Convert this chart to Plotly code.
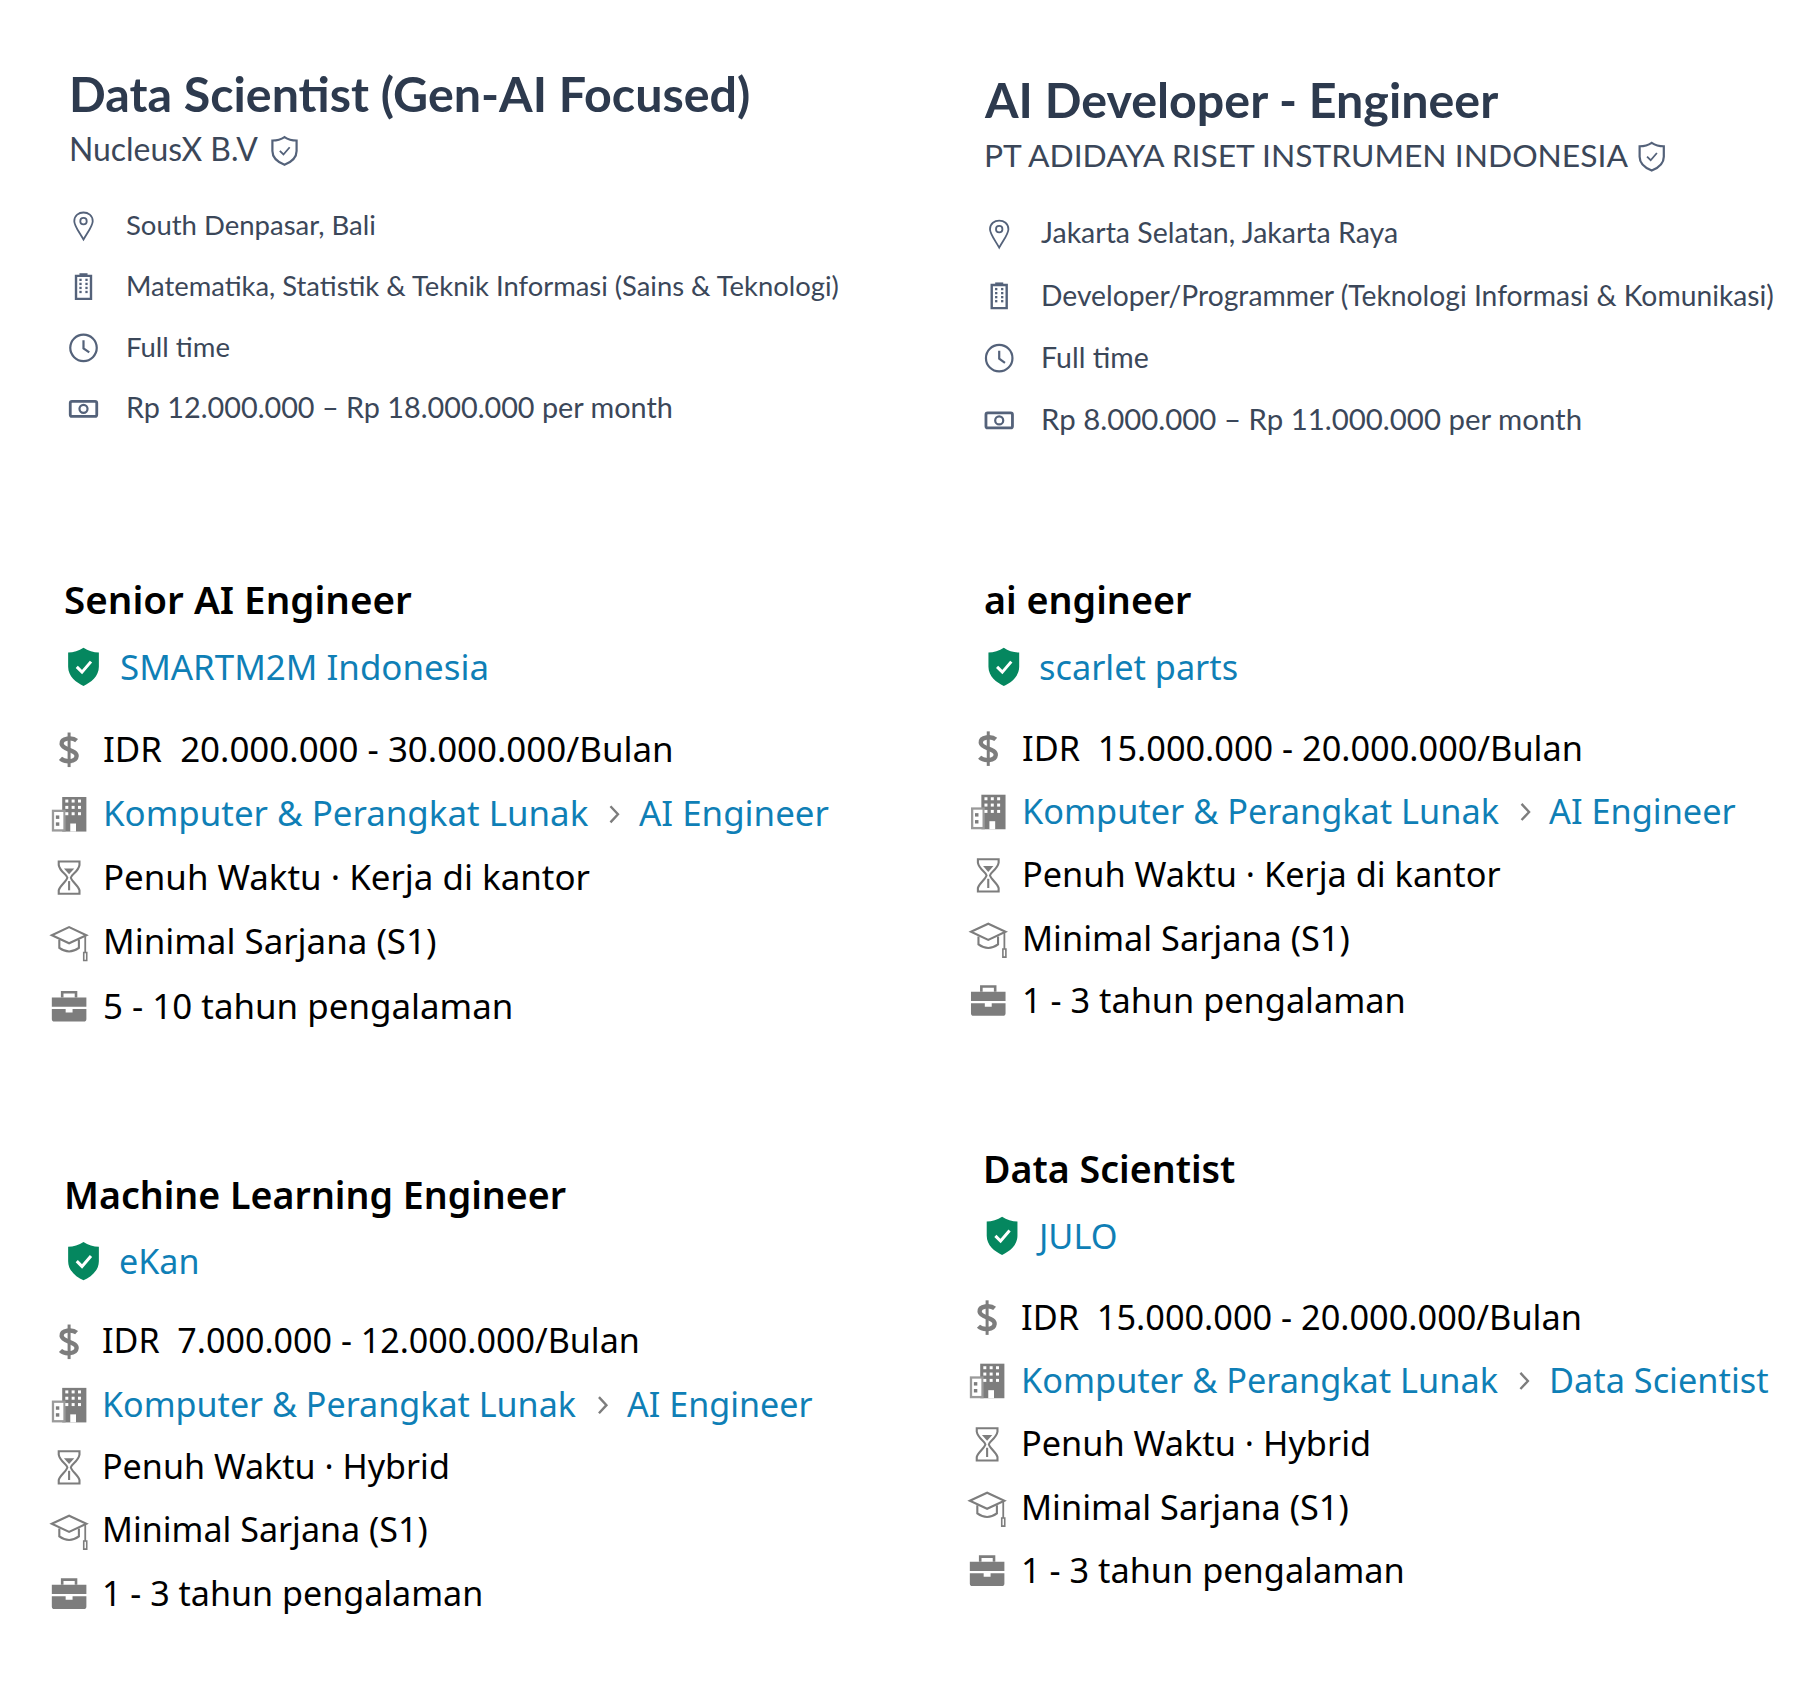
import plotly.graph_objects as go

# ---------- content ----------
top_titles = ["Data Scientist (Gen-AI Focused)", "AI Developer - Engineer"]
top_companies = ["NucleusX B.V", "PT ADIDAYA RISET INSTRUMEN INDONESIA"]
top_locations = ["South Denpasar, Bali", "Jakarta Selatan, Jakarta Raya"]
top_fields = ["Matematika, Statistik & Teknik Informasi (Sains & Teknologi)",
              "Developer/Programmer (Teknologi Informasi & Komunikasi)"]
top_types = ["Full time", "Full time"]
top_salaries = ["Rp 12.000.000 – Rp 18.000.000 per month", "Rp 8.000.000 – Rp 11.000.000 per month"]

low_titles = ["Senior AI Engineer", "ai engineer", "Machine Learning Engineer", "Data Scientist"]
low_companies = ["SMARTM2M Indonesia", "scarlet parts", "eKan", "JULO"]
low_salaries = ["IDR\u00a0 20.000.000 - 30.000.000/Bulan", "IDR\u00a0 15.000.000 - 20.000.000/Bulan",
                "IDR\u00a0 7.000.000 - 12.000.000/Bulan", "IDR\u00a0 15.000.000 - 20.000.000/Bulan"]
low_sectors = ["Komputer & Perangkat Lunak"] * 4
low_roles = ["AI Engineer", "AI Engineer", "AI Engineer", "Data Scientist"]
low_modes = ["Penuh Waktu · Kerja di kantor", "Penuh Waktu · Kerja di kantor",
             "Penuh Waktu · Hybrid", "Penuh Waktu · Hybrid"]
low_edu = ["Minimal Sarjana (S1)"] * 4
low_exp = ["5 - 10 tahun pengalaman", "1 - 3 tahun pengalaman", "1 - 3 tahun pengalaman", "1 - 3 tahun pengalaman"]

# ---------- layout (picture units) ----------
top_layout = [
    dict(x=61, title_y=82, sub_y=131, shield_x=247, icon_x=72.5, text_x=110, rows=[196, 249, 302, 355],
         sizes=[27.5, 27.4, 27.5, 28.8], sub_size=31.9),
    dict(x=855, title_y=87, sub_y=136, shield_x=1434, icon_x=867.5, text_x=905, rows=[203, 257, 311, 365],
         sizes=[28.5, 28.25, 28.5, 29.4], sub_size=31.8),
]
low_layout = [
    dict(x=56, title_y=521, co_x=105, co_y=580, sh_x=72.5, icon_x=60, text_x=90, arrow=533, role_x=556,
         rows=[651, 707, 762, 818, 874], title_size=38.6, size=34.9),
    dict(x=855, title_y=522, co_x=903, co_y=580, sh_x=871.5, icon_x=858, text_x=888, arrow=1324, role_x=1346,
         rows=[650, 705, 760, 815, 869], title_size=37.7, size=34.3),
    dict(x=56, title_y=1038, co_x=104, co_y=1096, sh_x=72.5, icon_x=60, text_x=89, arrow=523, role_x=545,
         rows=[1165, 1220, 1274, 1329, 1384], title_size=37.6, size=34.1),
    dict(x=854, title_y=1016, co_x=900, co_y=1074, sh_x=870, icon_x=857, text_x=887, arrow=1323, role_x=1346,
         rows=[1144, 1199, 1254, 1309, 1364], title_size=37.6, size=34.3),
]

INK = "#2d3a4e"
SUB = "#3b4759"
ICON = "#54627a"
BLUE = "#0f7fb6"
GREEN = "#05875f"
GRAY = "#7d7d7d"
TOPFONT = "Lato"
LOWFONT = "Noto Sans"

ann = []
shapes = []


def text(x, y, s, size, color, font, weight=400):
    ann.append(dict(x=x, y=y, xref="x", yref="y", text=s, showarrow=False, xanchor="left", yanchor="middle",
                    xshift=-3, yshift=1.5, font=dict(family=font, size=size, color=color, weight=weight)))


def path(cx, cy, s, cmds, fill=None, line=None, width=1.5, sx=None):
    sx = s if sx is None else sx
    out = []
    for c in cmds:
        op, nums = c[0], c[1:]
        pts = []
        for i in range(0, len(nums), 2):
            pts.append(f"{cx + nums[i] * sx:.2f},{cy + nums[i + 1] * s:.2f}")
        out.append(op + " ".join(pts))
    shapes.append(dict(type="path", xref="x", yref="y", path=" ".join(out),
                       fillcolor=fill if fill else "rgba(0,0,0,0)",
                       line=dict(color=line if line else "rgba(0,0,0,0)", width=width if line else 0)))


def circ(x, y, r):
    k = 0.5523 * r
    return [("M", x + r, y), ("C", x + r, y + k, x + k, y + r, x, y + r), ("C", x - k, y + r, x - r, y + k, x - r, y),
            ("C", x - r, y - k, x - k, y - r, x, y - r), ("C", x + k, y - r, x + r, y - k, x + r, y), ("Z",)]


def rect(x0, y0, x1, y1):
    return [("M", x0, y0), ("L", x1, y0), ("L", x1, y1), ("L", x0, y1), ("Z",)]


SHIELD = [("M", 0, -12), ("C", 3, -10, 7, -9, 10.5, -9), ("L", 10.5, 0), ("C", 10.5, 6, 5, 10, 0, 12),
          ("C", -5, 10, -10.5, 6, -10.5, 0), ("L", -10.5, -9), ("C", -7, -9, -3, -10, 0, -12), ("Z",)]
CHECK = [("M", -4.5, 0), ("L", -1, 3.5), ("L", 5, -3.5)]


def shield_outline(x, y):
    path(x, y, 1, SHIELD, None, ICON, 2.2)
    path(x, y, 0.9, CHECK, None, ICON, 1.8)


def shield_filled(x, y):
    path(x, y, 1.38, SHIELD, GREEN, sx=1.27)
    path(x, y, 1.3, CHECK, None, "#ffffff", 3)


def ic_pin(x, y):
    path(x, y, 1, [("M", 0, 12), ("C", -4, 5, -8, 0, -8, -4), ("C", -8, -9, -4, -11.5, 0, -11.5),
                   ("C", 4, -11.5, 8, -9, 8, -4), ("C", 8, 0, 4, 5, 0, 12), ("Z",)], None, ICON, 1.8)
    path(x, y - 4, 1, circ(0, 0, 2.8), None, ICON, 1.8)


def ic_building(x, y):
    path(x, y, 1, rect(-6.5, -9.5, 6.5, 10.5), None, ICON, 2.4)
    path(x, y, 1, [("M", -3.5, -11), ("L", 3.5, -11)], None, ICON, 1.8)
    for dx in (-2.6, 2.6):
        for dy in (-6, -2.5, 1, 4.5):
            path(x + dx, y + dy, 1, rect(-1, -1, 1, 1), ICON)


def ic_clock(x, y):
    path(x, y, 1, circ(0, 0, 11.5), None, ICON, 2.2)
    path(x, y, 1, [("M", 0, -6.5), ("L", 0, 0.5), ("L", 5, 4)], None, ICON, 2.2)


def ic_money(x, y):
    path(x, y, 1, [("M", -10, -6.5), ("L", 10, -6.5), ("C", 11, -6.5, 11.5, -6, 11.5, -5), ("L", 11.5, 5),
                   ("C", 11.5, 6, 11, 6.5, 10, 6.5), ("L", -10, 6.5), ("C", -11, 6.5, -11.5, 6, -11.5, 5),
                   ("L", -11.5, -5), ("C", -11.5, -6, -11, -6.5, -10, -6.5), ("Z",)], None, ICON, 2.8)
    path(x, y, 1, circ(0, 0, 3.5), None, ICON, 2.2)


def ic_dollar(x, y):
    path(x, y, 1, [("M", 6.5, -8), ("C", 3, -11, -7, -10.5, -6.5, -5), ("C", -6, 0, 7, 0, 6.5, 5.5),
                   ("C", 6, 11, -4, 11, -7.5, 7.5)], None, GRAY, 4.4)
    path(x, y, 1, [("M", 0, -15), ("L", 0, 15)], None, GRAY, 3)


def ic_office(x, y):
    path(x, y, 1, rect(-6, -15, 15, 15), GRAY)
    path(x, y, 1, rect(-15, -4, -3, 15), "#9a9a9a")
    path(x, y, 1, rect(-13, -2, -5, 13), "#ffffff")
    path(x, y, 1, rect(-11.5, 1, -8.5, 4), GRAY)
    path(x, y, 1, rect(-11.5, 7, -8.5, 10), GRAY)
    path(x, y, 1, rect(1, 8, 6, 15), "#ffffff")
    for dx in (-2, 3.5, 9):
        for dy in (-11.5, -6, -0.5):
            path(x + dx, y + dy, 1, rect(-1.3, -1.3, 1.3, 1.3), "#ffffff")


def ic_hour(x, y):
    path(x, y, 1, [("M", -9, -14), ("L", 9, -14), ("L", 9, -11), ("C", 8, -5, 2, -3, 1.5, 0), ("C", 2, 3, 8, 7, 9, 11),
                   ("L", 9, 14), ("L", -9, 14), ("L", -9, 11), ("C", -8, 7, -2, 3, -1.5, 0),
                   ("C", -2, -3, -8, -5, -9, -11), ("L", -9, -14), ("Z",)], None, GRAY, 2.1)
    path(x, y, 1, [("M", -4.5, -8), ("L", 4.5, -8), ("L", 0, -3), ("Z",)], GRAY)
    path(x, y, 1, [("M", 0, 3), ("L", 0, 11)], None, GRAY, 2.1)


def ic_cap(x, y):
    path(x, y, 1, [("M", -15, -6), ("L", 0, -13), ("L", 15, -6), ("L", 0, 1), ("Z",)], None, GRAY, 2.1)
    path(x, y, 1, [("M", -8.5, -2), ("L", -8.5, 5), ("C", -3, 9, 3, 9, 8.5, 5), ("L", 8.5, -2)], None, GRAY, 2.1)
    path(x, y, 1, [("M", 14, -5), ("L", 14, 9)], None, GRAY, 1.8)
    path(x, y, 1, rect(12.7, 9, 15.3, 16), None, GRAY, 1.6)


def ic_case(x, y):
    path(x, y, 1, [("M", -15, -8), ("L", 15, -8), ("L", 15, 0), ("L", -15, 0), ("Z",)], GRAY)
    path(x, y, 1, [("M", -15, 2), ("L", -3, 2), ("L", -3, 5), ("L", 3, 5), ("L", 3, 2), ("L", 15, 2), ("L", 15, 11),
                   ("C", 15, 12.5, 14, 13, 13, 13), ("L", -13, 13), ("C", -14, 13, -15, 12.5, -15, 11), ("Z",)], GRAY)
    path(x, y, 1, [("M", -6, -8), ("L", -6, -12.5), ("L", 6, -12.5), ("L", 6, -8)], None, GRAY, 2.6)


def chevron(x, y):
    path(x, y, 1, [("M", -3, -7), ("L", 3.5, 0), ("L", -3, 7)], None, GRAY, 2.4)


# ---------- top cards ----------
for i, L in enumerate(top_layout):
    text(L["x"], L["title_y"], top_titles[i], 48.4, INK, TOPFONT, 700)
    text(L["x"], L["sub_y"], top_companies[i], L["sub_size"], SUB, TOPFONT)
    shield_outline(L["shield_x"], L["sub_y"])
    rows = [top_locations[i], top_fields[i], top_types[i], top_salaries[i]]
    for r, y, sz, icon in zip(rows, L["rows"], L["sizes"], (ic_pin, ic_building, ic_clock, ic_money)):
        icon(L["icon_x"], y)
        text(L["text_x"], y, r, sz, SUB, TOPFONT)

# ---------- lower cards ----------
for i, L in enumerate(low_layout):
    fs = L["size"]
    text(L["x"], L["title_y"], low_titles[i], L["title_size"], "#000000", LOWFONT, 600)
    shield_filled(L["sh_x"], L["co_y"] - 1)
    text(L["co_x"], L["co_y"], low_companies[i], fs, BLUE, LOWFONT)
    r = L["rows"]
    ix = L["icon_x"]
    ic_dollar(ix, r[0])
    ic_office(ix, r[1])
    ic_hour(ix, r[2])
    ic_cap(ix, r[3])
    ic_case(ix, r[4])
    text(L["text_x"], r[0], low_salaries[i], fs, "#000000", LOWFONT)
    text(L["text_x"], r[1], low_sectors[i], fs, BLUE, LOWFONT)
    chevron(L["arrow"], r[1])
    text(L["role_x"], r[1], low_roles[i], fs, BLUE, LOWFONT)
    text(L["text_x"], r[2], low_modes[i], fs, "#000000", LOWFONT)
    text(L["text_x"], r[3], low_edu[i], fs, "#000000", LOWFONT)
    text(L["text_x"], r[4], low_exp[i], fs, "#000000", LOWFONT)

fig = go.Figure()
fig.update_layout(
    width=1790, height=1670, margin=dict(l=0, r=0, t=0, b=0),
    paper_bgcolor="#ffffff", plot_bgcolor="#ffffff", showlegend=False,
    xaxis=dict(range=[6.95, 1561.0], visible=False, fixedrange=True),
    yaxis=dict(range=[1456.9, 6.95], visible=False, fixedrange=True),
    annotations=ann, shapes=shapes,
)
fig.write_html("out.html", config=dict(displayModeBar=False))
